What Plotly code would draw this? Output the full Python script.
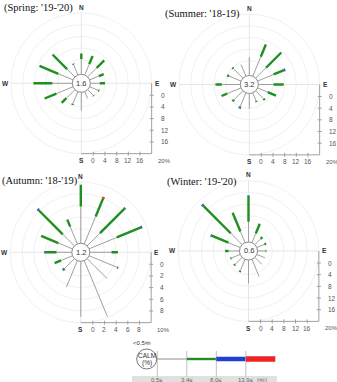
import numpy as np
import plotly.graph_objects as go

FIG_W, FIG_H = 337, 382

# ---------------- data ----------------
DIRECTIONS = ["N", "NNE", "NE", "ENE", "E", "ESE", "SE", "SSE",
              "S", "SSW", "SW", "WSW", "W", "WNW", "NW", "NNW"]
SPEED_LABELS = ["0.5≤", "3.4≤", "8.0≤", "13.9≤"]
SPEED_UNIT = "(㎧)"
CALM_LABEL = "<0.5㎧"

# frequency (%) per direction for each speed class
spring_calm = 1.6
spring_c1 = [4.2, 3.0, 3.3, 2.4, 2.2, 2.2, 1.7, 1.5, 5.3, 3.5, 3.1, 5.1, 5.8, 4.4, 2.8, 2.8]
spring_c2 = [1.9, 3.0, 3.7, 1.8, 1.8, 0.4, 0.3, 0.0, 0.0, 0.4, 2.3, 4.4, 6.5, 7.0, 6.8, 0.4]
spring_c3 = [0, 0, 0, 0, 0, 0, 0, 0, 0, 0, 0, 0, 0, 0, 0.2, 0]
spring_c4 = [0] * 16

summer_calm = 3.2
summer_c1 = [5.3, 6.2, 4.0, 4.9, 4.2, 2.7, 2.8, 2.0, 4.2, 4.0, 3.3, 4.1, 5.3, 3.4, 3.6, 3.3]
summer_c2 = [0.0, 4.5, 7.4, 3.9, 3.5, 3.1, 0.6, 0.4, 0.0, 0.5, 0.7, 2.1, 2.2, 0.7, 0.5, 0.0]
summer_c3 = [0, 0, 0, 0.4, 0, 0, 0, 0, 0, 0.3, 0, 0, 0, 0, 0, 0]
summer_c4 = [0] * 16

autumn_calm = 1.2
autumn_c1 = [5.8, 4.6, 2.6, 4.6, 3.2, 4.7, 4.3, 9.9, 9.0, 4.4, 1.9, 1.6, 2.1, 2.1, 2.3, 2.7]
autumn_c2 = [3.7, 3.4, 6.0, 4.5, 1.1, 0.2, 0.0, 0.0, 0.0, 0.0, 0.3, 1.2, 2.0, 3.2, 5.9, 1.3]
autumn_c3 = [0, 0, 0.1, 0.2, 0, 0, 0, 0, 0, 0, 0.1, 0, 0.1, 0, 0.2, 0]
autumn_c4 = [0, 0.2, 0, 0, 0, 0, 0, 0, 0, 0, 0, 0, 0, 0, 0, 0]

winter_calm = 0.6
winter_c1 = [5.9, 2.4, 1.8, 1.8, 1.7, 2.0, 2.3, 5.4, 7.0, 3.2, 2.4, 2.2, 2.7, 3.3, 4.5, 3.1]
winter_c2 = [8.8, 3.6, 0.8, 0.6, 0.3, 0.0, 0.0, 0.0, 0.0, 0.5, 0.5, 0.4, 1.2, 6.3, 13.5, 7.0]
winter_c3 = [0.2, 0, 0, 0, 0, 0, 0, 0, 0, 0, 0, 0, 0, 0.3, 0.4, 0]
winter_c4 = [0] * 16

spring_ticks = [0, 4, 8, 12, 16, 20]
summer_ticks = [0, 4, 8, 12, 16, 20]
autumn_ticks = [0, 2, 4, 6, 8, 10]
winter_ticks = [0, 4, 8, 12, 16, 20]

# ---------------- styles / layout ----------------
CLASS_COLORS = ["#a0a0a0", "#1f8f1f", "#2040d0", "#ee2222"]
CLASS_WIDTHS = [1.0, 2.4, 3.0, 3.0]
RING_COLOR = "#f1f1f1"
CROSS_COLOR = "#e6e6e6"
AXIS_COLOR = "#a0a0a0"
TXT = "#555555"
SANS = "Liberation Sans"
SERIF = "Liberation Serif"

STEP_PX = 11.67     # pixel length of one tick step
OFF_PX = 12.0       # pixel offset of 0 %
CALM_PX = 9.0       # calm circle radius
HALF = 80           # half-size of each subplot (px)

panels = [
    dict(title="(Spring: '19-'20)", tx=2, ty=8, cx=81.3, cy=83.3, calm=spring_calm,
         classes=[spring_c1, spring_c2, spring_c3, spring_c4], ticks=spring_ticks),
    dict(title="(Summer: '18-19)", tx=163, ty=14, cx=249.3, cy=84.5, calm=summer_calm,
         classes=[summer_c1, summer_c2, summer_c3, summer_c4], ticks=summer_ticks),
    dict(title="(Autumn: '18-'19)", tx=0, ty=181, cx=80.8, cy=252.3, calm=autumn_calm,
         classes=[autumn_c1, autumn_c2, autumn_c3, autumn_c4], ticks=autumn_ticks),
    dict(title="(Winter: '19-'20)", tx=165, ty=182, cx=248.5, cy=251.0, calm=winter_calm,
         classes=[winter_c1, winter_c2, winter_c3, winter_c4], ticks=winter_ticks),
]

fig = go.Figure()
shapes = []
annotations = []
theta = np.deg2rad(np.arange(len(DIRECTIONS)) * 22.5)

for i, p in enumerate(panels, start=1):
    xa = "x" if i == 1 else f"x{i}"
    ya = "y" if i == 1 else f"y{i}"
    ticks = p["ticks"]
    step = ticks[1] - ticks[0]
    s = STEP_PX / step            # px per %
    u = lambda px: px / s         # px -> data units
    off = u(OFF_PX)
    rmax = off + ticks[-1]

    fig.layout[f"xaxis{'' if i == 1 else i}"] = dict(
        domain=[(p["cx"] - HALF) / FIG_W, (p["cx"] + HALF) / FIG_W],
        range=[-u(HALF), u(HALF)], visible=False, fixedrange=True, anchor=ya)
    fig.layout[f"yaxis{'' if i == 1 else i}"] = dict(
        domain=[(FIG_H - p["cy"] - HALF) / FIG_H, (FIG_H - p["cy"] + HALF) / FIG_H],
        range=[-u(HALF), u(HALF)], visible=False, fixedrange=True, anchor=xa)

    # rings
    for t in ticks[1:]:
        r = off + t
        shapes.append(dict(type="circle", xref=xa, yref=ya, x0=-r, x1=r, y0=-r, y1=r,
                           line=dict(color=RING_COLOR, width=1), layer="below"))
    # cross lines
    shapes.append(dict(type="line", xref=xa, yref=ya, x0=0, x1=0, y0=-rmax, y1=rmax,
                       line=dict(color=CROSS_COLOR, width=1), layer="below"))
    shapes.append(dict(type="line", xref=xa, yref=ya, x0=-rmax, x1=rmax, y0=0, y1=0,
                       line=dict(color=CROSS_COLOR, width=1), layer="below"))
    # scale axes
    shapes.append(dict(type="line", xref=xa, yref=ya, x0=rmax, x1=rmax, y0=0, y1=-rmax,
                       line=dict(color=AXIS_COLOR, width=1)))
    shapes.append(dict(type="line", xref=xa, yref=ya, x0=0, x1=rmax, y0=-rmax, y1=-rmax,
                       line=dict(color=AXIS_COLOR, width=1)))
    for t in ticks[:-1]:
        d = off + t
        shapes.append(dict(type="line", xref=xa, yref=ya, x0=rmax - u(2), x1=rmax + u(2),
                           y0=-d, y1=-d, line=dict(color=AXIS_COLOR, width=1)))
        shapes.append(dict(type="line", xref=xa, yref=ya, x0=d, x1=d,
                           y0=-rmax - u(2), y1=-rmax + u(2), line=dict(color=AXIS_COLOR, width=1)))
        annotations.append(dict(xref=xa, yref=ya, x=rmax + u(7), y=-d, text=str(t),
                                showarrow=False, xanchor="left", yanchor="middle",
                                font=dict(family=SANS, size=6.5, color=TXT)))
        annotations.append(dict(xref=xa, yref=ya, x=d, y=-rmax - u(7), text=str(t),
                                showarrow=False, xanchor="center", yanchor="middle",
                                font=dict(family=SANS, size=6.5, color=TXT)))
    annotations.append(dict(xref=xa, yref=ya, x=rmax + u(4), y=-rmax - u(7),
                            text=f"{ticks[-1]}%", showarrow=False, xanchor="left",
                            yanchor="middle", font=dict(family=SANS, size=6, color=TXT)))
    # compass letters
    R_LAB = u(76)
    for lab, x, y in [("N", 0, R_LAB), ("S", 0, -rmax - u(7)),
                      ("E", R_LAB, 0.0), ("W", -R_LAB, 0.0)]:
        annotations.append(dict(xref=xa, yref=ya, x=x, y=y, text=f"<b>{lab}</b>",
                                showarrow=False, xanchor="center", yanchor="middle",
                                font=dict(family=SANS, size=6.5, color="#333")))

    # spokes
    cum_prev = np.zeros(len(DIRECTIONS))
    for k, cls in enumerate(p["classes"]):
        vals = np.array(cls, dtype=float)
        cum = cum_prev + vals
        xs, ys = [], []
        for j in range(len(DIRECTIONS)):
            if vals[j] <= 0:
                continue
            r0 = u(CALM_PX) if k == 0 else off + cum_prev[j]
            r1 = off + cum[j]
            xs += [r0 * np.sin(theta[j]), r1 * np.sin(theta[j]), None]
            ys += [r0 * np.cos(theta[j]), r1 * np.cos(theta[j]), None]
        if xs:
            fig.add_trace(go.Scatter(x=xs, y=ys, mode="lines", xaxis=xa, yaxis=ya,
                                     line=dict(color=CLASS_COLORS[k], width=CLASS_WIDTHS[k]),
                                     hoverinfo="skip", showlegend=False))
        cum_prev = cum

    # calm circle
    rc = u(CALM_PX)
    shapes.append(dict(type="circle", xref=xa, yref=ya, x0=-rc, x1=rc, y0=-rc, y1=rc,
                       fillcolor="white", line=dict(color="#8a8a8a", width=1), layer="above"))
    annotations.append(dict(xref=xa, yref=ya, x=0, y=0, text=f"{p['calm']}",
                            showarrow=False, xanchor="center", yanchor="middle",
                            font=dict(family=SANS, size=7.5, color="#333")))
    # title
    annotations.append(dict(xref="paper", yref="paper", x=p["tx"] / FIG_W,
                            y=1 - p["ty"] / FIG_H, text=p["title"], showarrow=False,
                            xanchor="left", yanchor="middle",
                            font=dict(family=SERIF, size=10.5, color="#111")))

# ---------------- legend ----------------
def px(x, y):
    return x / FIG_W, 1 - y / FIG_H

LY = 359
seg_start, seg_len = 157.3, 29.5
bx0, by0 = px(132, 376)
bx1, by1 = px(277, 383)
shapes.append(dict(type="rect", xref="paper", yref="paper", x0=bx0, x1=bx1, y0=by1, y1=by0,
                   fillcolor="#e0e0e0", line=dict(width=0), layer="below"))
leg_widths = [1.2, 2.4, 4.5, 5.5]
for k in range(len(SPEED_LABELS)):
    xa0 = seg_start + k * seg_len
    x0, y0 = px(xa0, LY)
    x1, _ = px(xa0 + seg_len, LY)
    shapes.append(dict(type="line", xref="paper", yref="paper", x0=x0, x1=x0,
                       y0=px(0, 351)[1], y1=px(0, 377)[1],
                       line=dict(color="#c0c0c0", width=1)))
    shapes.append(dict(type="line", xref="paper", yref="paper", x0=x0, x1=x1, y0=y0, y1=y0,
                       line=dict(color=CLASS_COLORS[k], width=leg_widths[k])))
    tx, ty = px(xa0, 379.5)
    annotations.append(dict(xref="paper", yref="paper", x=tx, y=ty, text=SPEED_LABELS[k],
                            showarrow=False, xanchor="center", yanchor="middle",
                            font=dict(family=SANS, size=6, color="#666")))
tx, ty = px(255, 379.5)
annotations.append(dict(xref="paper", yref="paper", x=tx, y=ty, text=SPEED_UNIT,
                        showarrow=False, xanchor="left", yanchor="middle",
                        font=dict(family=SANS, size=6, color="#666")))
# calm legend circle
ccx, ccy, cr = 146.7, 359, 10
x0, y0 = px(ccx - cr, ccy + cr)
x1, y1 = px(ccx + cr, ccy - cr)
shapes.append(dict(type="circle", xref="paper", yref="paper", x0=x0, x1=x1, y0=y0, y1=y1,
                   fillcolor="white", line=dict(color="#777", width=1), layer="above"))
for txt, yy in [("CALM", 355.5), ("(%)", 362.5)]:
    tx, ty = px(ccx, yy)
    annotations.append(dict(xref="paper", yref="paper", x=tx, y=ty, text=txt,
                            showarrow=False, xanchor="center", yanchor="middle",
                            font=dict(family=SANS, size=6.5, color="#333")))
tx, ty = px(142, 343)
annotations.append(dict(xref="paper", yref="paper", x=tx, y=ty, text=CALM_LABEL,
                        showarrow=False, xanchor="center", yanchor="middle",
                        font=dict(family=SANS, size=6, color="#333")))

fig.update_layout(width=FIG_W, height=FIG_H, margin=dict(l=0, r=0, t=0, b=0),
                  autosize=False, paper_bgcolor="white", plot_bgcolor="white",
                  shapes=shapes, annotations=annotations, showlegend=False)
fig.write_html("out.html", config={"displayModeBar": False})
